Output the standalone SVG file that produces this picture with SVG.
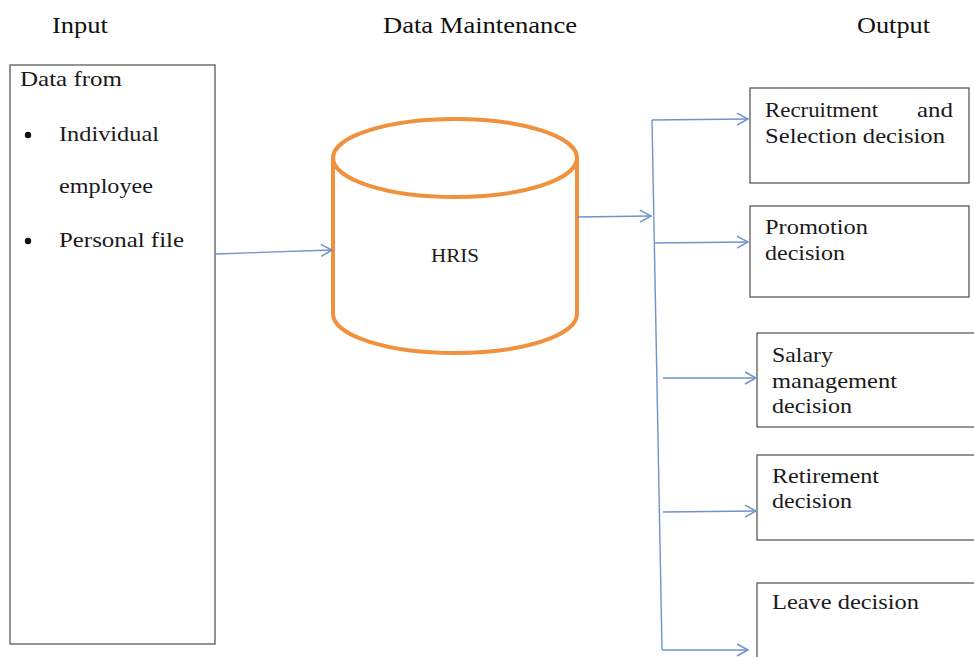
<svg xmlns="http://www.w3.org/2000/svg" width="974" height="657" viewBox="0 0 974 657">
  <style>
    .hdr { font-family: "Liberation Serif", "Times New Roman", serif; font-size: 24px; fill: #111; }
    .lbl { font-family: "Liberation Serif", "Times New Roman", serif; font-size: 21px; fill: #1a1a1a; }
    .box { fill: #fff; stroke: #5a5a5a; stroke-width: 1.3; }
    .cyl { fill: #fff; stroke: #F0913E; stroke-width: 4; }
    .wire { fill: none; stroke: #6F93CB; stroke-width: 1.4; }
  </style>
  <defs>
    <marker id="chev" markerUnits="userSpaceOnUse" markerWidth="16" markerHeight="16" viewBox="0 0 16 16" refX="14" refY="8" orient="auto">
      <path d="M3,2 L14,8 L3,14" fill="none" stroke="#6F93CB" stroke-width="1.5"/>
    </marker>
  </defs>
  <rect width="974" height="657" fill="#fff"/>

  <!-- column headers -->
  <g id="headers">
    <text class="hdr" x="52" y="33" textLength="56" lengthAdjust="spacingAndGlyphs">Input</text>
    <text class="hdr" x="383" y="33" textLength="194" lengthAdjust="spacingAndGlyphs">Data Maintenance</text>
    <text class="hdr" x="857" y="33" textLength="73" lengthAdjust="spacingAndGlyphs">Output</text>
  </g>

  <!-- input sources -->
  <g id="input">
    <rect class="box" x="10" y="65" width="205" height="579"/>
    <text class="lbl" x="20" y="86" textLength="102" lengthAdjust="spacingAndGlyphs">Data from</text>
    <circle cx="28" cy="135" r="3.2" fill="#111"/>
    <text class="lbl" x="59" y="141" textLength="100" lengthAdjust="spacingAndGlyphs">Individual</text>
    <text class="lbl" x="59" y="193" textLength="94" lengthAdjust="spacingAndGlyphs">employee</text>
    <circle cx="28" cy="241" r="3.2" fill="#111"/>
    <text class="lbl" x="59" y="247" textLength="125" lengthAdjust="spacingAndGlyphs">Personal file</text>
  </g>

  <!-- HRIS database -->
  <g id="hris">
    <path class="cyl" d="M333,158 L333,314 A122,39 0 0 0 577,314 L577,158"/>
    <ellipse class="cyl" cx="455" cy="158" rx="122" ry="39"/>
    <text class="lbl" x="431" y="262" textLength="48" lengthAdjust="spacingAndGlyphs" style="font-size:18px">HRIS</text>
  </g>

  <!-- output decisions -->
  <g id="recruitment">
    <rect class="box" x="750" y="88" width="219" height="95"/>
    <text class="lbl" x="765" y="117" textLength="113" lengthAdjust="spacingAndGlyphs">Recruitment</text>
    <text class="lbl" x="917" y="117" textLength="36" lengthAdjust="spacingAndGlyphs">and</text>
    <text class="lbl" x="765" y="143" textLength="180" lengthAdjust="spacingAndGlyphs">Selection decision</text>
  </g>
  <g id="promotion">
    <rect class="box" x="750" y="206" width="219" height="91"/>
    <text class="lbl" x="765" y="234" textLength="103" lengthAdjust="spacingAndGlyphs">Promotion</text>
    <text class="lbl" x="765" y="260" textLength="80" lengthAdjust="spacingAndGlyphs">decision</text>
  </g>
  <g id="salary">
    <rect class="box" x="757" y="333" width="218" height="94"/>
    <text class="lbl" x="772" y="362" textLength="61" lengthAdjust="spacingAndGlyphs">Salary</text>
    <text class="lbl" x="772" y="388" textLength="125" lengthAdjust="spacingAndGlyphs">management</text>
    <text class="lbl" x="772" y="413" textLength="80" lengthAdjust="spacingAndGlyphs">decision</text>
  </g>
  <g id="retirement">
    <rect class="box" x="757" y="455" width="218" height="85"/>
    <text class="lbl" x="772" y="483" textLength="107" lengthAdjust="spacingAndGlyphs">Retirement</text>
    <text class="lbl" x="772" y="508" textLength="80" lengthAdjust="spacingAndGlyphs">decision</text>
  </g>
  <g id="leave">
    <rect class="box" x="757" y="583" width="218" height="80"/>
    <text class="lbl" x="772" y="609" textLength="147" lengthAdjust="spacingAndGlyphs">Leave decision</text>
  </g>

  <!-- connectors -->
  <g id="connectors">
    <path class="wire" d="M215,254 L332,250" marker-end="url(#chev)"/>
    <path class="wire" d="M577,217 L651,216" marker-end="url(#chev)"/>
    <path class="wire" d="M652,120 L662,650"/>
    <path class="wire" d="M652,120 L748,119" marker-end="url(#chev)"/>
    <path class="wire" d="M654,243 L748,242" marker-end="url(#chev)"/>
    <path class="wire" d="M663,378 L756,378" marker-end="url(#chev)"/>
    <path class="wire" d="M663,512 L756,511" marker-end="url(#chev)"/>
    <path class="wire" d="M662,650 L748,650" marker-end="url(#chev)"/>
  </g>
</svg>
